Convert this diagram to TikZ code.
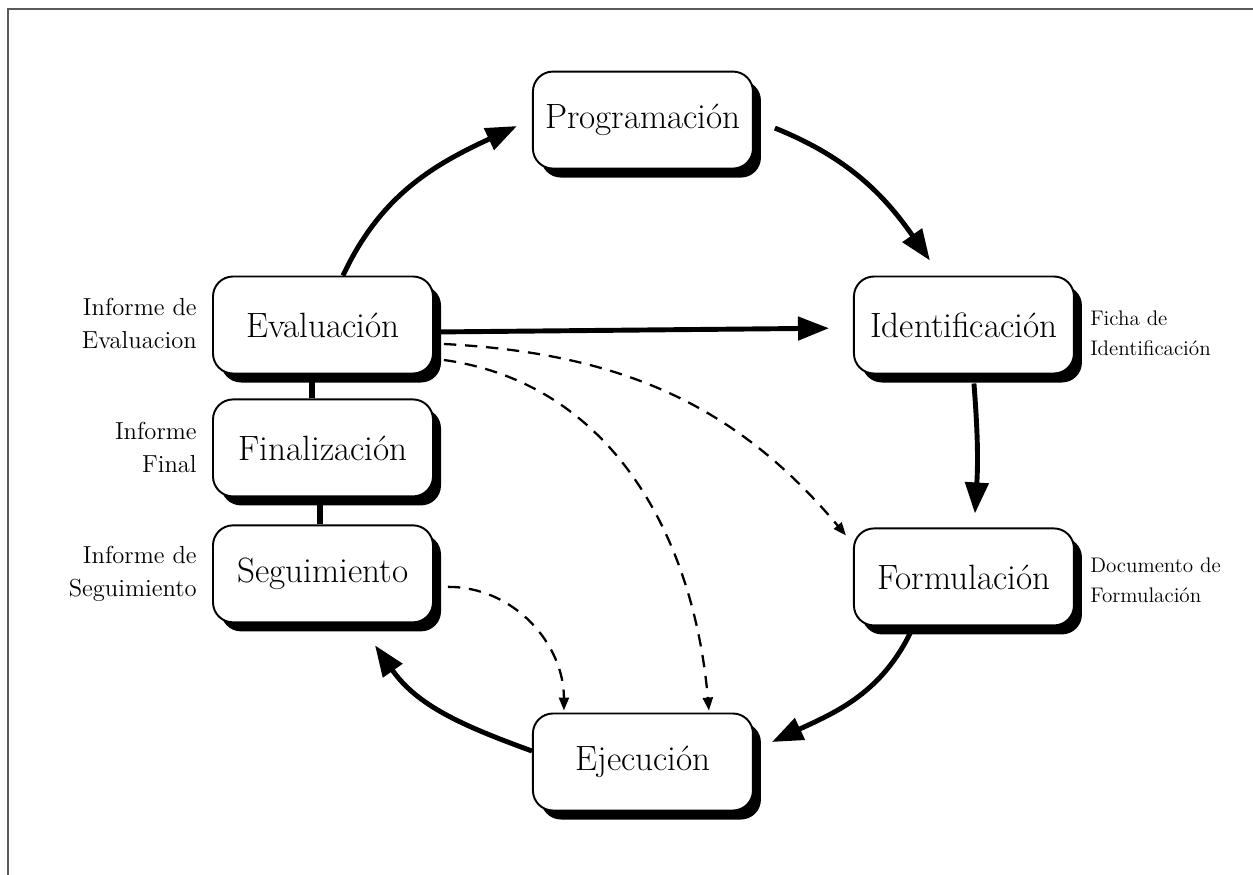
\documentclass[tikz,border=0pt]{standalone}
\usepackage{tikz}
\usetikzlibrary{positioning}
\usetikzlibrary{arrows.meta,calc,shadows}
\tikzset{line/.style={draw, line width=2.8pt, -{Triangle[length=0.62cm,width=0.46cm]}}}
\tikzset{dline/.style={draw, line width=1.3pt, dash pattern=on 7pt off 5pt, -{Triangle[length=0.26cm,width=0.2cm]}}}
\tikzset{link/.style={draw, line width=3.4pt}}

\begin{document}
\begin{tikzpicture}
\tikzstyle{block} = [rectangle, rounded corners=0.4cm, draw, line width=1.1pt, fill=white, inner xsep=2pt, minimum width=4.4cm, minimum height=1.94cm, font=\fontsize{20}{22}\selectfont, drop shadow={shadow xshift=0.16cm, shadow yshift=-0.18cm, fill=black, opacity=1}]
\tikzstyle{infoleft} = [inner sep=0pt, font=\fontsize{14}{18.8}\selectfont, align=right]
\tikzstyle{inforight} = [inner sep=0pt, font=\fontsize{12}{17}\selectfont, align=left]

% frame
    \useasboundingbox (0,0) rectangle (25.06,-17.5);
    \draw [gray!70!black, line width=1.2pt] (25.06,-0.18) -- (0.16,-0.18) -- (0.16,-17.5);
% blocks
    \node [block] (eval) at (6.46,-6.5) {Evaluación};
    \node [block, right=8.38cm of eval] (ident) {Identificación};
    \node [block, below=3.06cm of ident] (form) {Formulación};
    \node [block, below=0.48cm of eval] (final) {Finalización};
    \node [block, below=0.54cm of final] (seg) {Seguimiento};
    \node [block, above right=2.12cm and 1.96cm of eval] (prog) {Programación};
    \node [block, below=10.86cm of prog] (ejec) {Ejecución};
% documents
    \node [infoleft, left=0.3cm of eval, yshift=0.04cm] (ieval) {Informe de\\Evaluacion};
    \node [infoleft, left=0.3cm of final] (ifinal) {Informe\\Final};
    \node [infoleft, left=0.3cm of seg] (iseg) {Informe de\\Seguimiento};
    \node [inforight, right=0.3cm of ident, yshift=-0.16cm] (iident) {Ficha de\\Identificación};
    \node [inforight, right=0.3cm of form, yshift=-0.06cm] (iform) {Documento de\\Formulación};
% arrows
    \path [line] ([xshift=0.4cm]eval.north) to[out=65,in=205] ([xshift=-0.3cm,yshift=-0.12cm]prog.west);
    \path [line] ([xshift=0.42cm,yshift=-0.16cm]prog.east) to[out=-22,in=125] ([xshift=-0.68cm,yshift=0.3cm]ident.north);
    \path [line] ([xshift=0.2cm,yshift=-0.18cm]ident.south) to[bend left=4] ([xshift=0.22cm,yshift=0.28cm]form.north);
    \path [line] ([xshift=-1.04cm,yshift=-0.06cm]form.south) to[out=-115,in=25] ([xshift=0.36cm,yshift=0.4cm]ejec.east);
    \path [line] ([yshift=0.22cm]ejec.west) to[out=160,in=-55] ([xshift=1.04cm,yshift=-0.44cm]seg.south);
    \path [line, shorten >=0.48cm] ([yshift=-0.14cm]eval.east) -- ([yshift=-0.06cm]ident.west);
    \path [link] ([xshift=-0.22cm]eval.south) -- ([xshift=-0.22cm]final.north);
    \path [link] ([xshift=-0.06cm]final.south) -- ([xshift=-0.06cm]seg.north);
% dashed
    \path [dline] ([xshift=0.2cm,yshift=-0.38cm]eval.east) to[out=-3,in=130] ([xshift=-0.14cm,yshift=-0.16cm]form.north west);
    \path [dline] ([xshift=0.2cm,yshift=-0.7cm]eval.east) to[out=-8,in=95] ([xshift=1.32cm,yshift=0.04cm]ejec.north);
    \path [dline] ([xshift=0.28cm,yshift=-0.26cm]seg.east) to[out=0,in=90] ([xshift=-1.58cm,yshift=0.04cm]ejec.north);
\end{tikzpicture}
\end{document}
